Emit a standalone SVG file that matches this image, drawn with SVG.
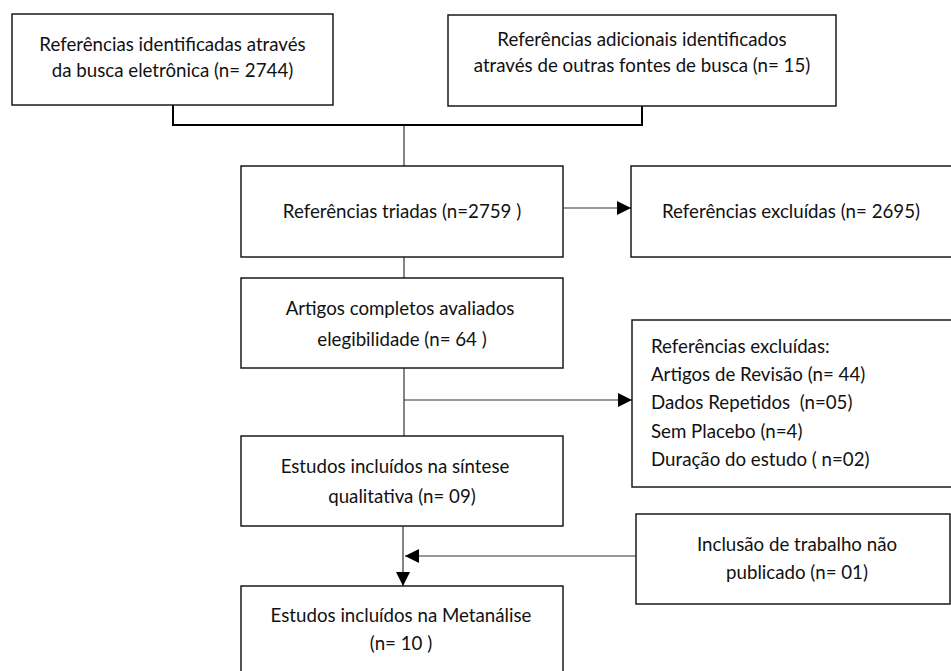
<svg xmlns="http://www.w3.org/2000/svg" width="951" height="671" viewBox="0 0 951 671">
  <style>
    .box { fill: #ffffff; stroke: #1a1a1a; stroke-width: 1.5; }
    .t { font-family: Lato, "Open Sans", "Liberation Sans", sans-serif; font-size: 18.7px; fill: #111111; white-space: pre; }
    .c { text-anchor: middle; }
    .thick { fill: none; stroke: #000000; stroke-width: 2; }
    .thin { fill: none; stroke: #333333; stroke-width: 1.2; }
  </style>
  <defs>
    <marker id="arrow" viewBox="0 0 14 14" refX="14" refY="7" markerWidth="14" markerHeight="14" markerUnits="userSpaceOnUse" orient="auto">
      <path d="M0,0 L14,7 L0,14 Z" fill="#000000"/>
    </marker>
  </defs>
  <rect width="951" height="671" fill="#ffffff"/>

  <g id="connectors">
    <polyline class="thick" points="173,105 173,125 642,125 642,106"/>
    <line class="thin" x1="404" y1="126" x2="404" y2="166"/>
    <line class="thin" x1="564" y1="208" x2="631" y2="208" marker-end="url(#arrow)"/>
    <line class="thin" x1="404" y1="257" x2="404" y2="278"/>
    <line class="thin" x1="404" y1="368" x2="404" y2="436"/>
    <line class="thin" x1="404" y1="400" x2="632" y2="400" marker-end="url(#arrow)"/>
    <line class="thin" x1="403" y1="526" x2="403" y2="586" marker-end="url(#arrow)"/>
    <line class="thin" x1="636" y1="556" x2="405" y2="556" marker-end="url(#arrow)"/>
  </g>

  <g id="n1">
    <rect class="box" x="12" y="14" width="321" height="91"/>
    <text class="t c" x="172.5" y="51">Referências identificadas através</text>
    <text class="t c" x="172.5" y="77">da busca eletrônica (n= 2744)</text>
  </g>
  <g id="n2">
    <rect class="box" x="448" y="15" width="388" height="91"/>
    <text class="t c" x="642" y="46">Referências adicionais identificados</text>
    <text class="t c" x="642" y="72">através de outras fontes de busca (n= 15)</text>
  </g>
  <g id="n3">
    <rect class="box" x="241" y="166" width="322" height="91"/>
    <text class="t c" x="402" y="218">Referências triadas (n=2759 )</text>
  </g>
  <g id="n4">
    <rect class="box" x="631" y="166" width="325" height="91"/>
    <text class="t c" x="791" y="218">Referências excluídas (n= 2695)</text>
  </g>
  <g id="n5">
    <rect class="box" x="241" y="278" width="322" height="90"/>
    <text class="t c" x="400" y="315">Artigos completos avaliados</text>
    <text class="t c" x="402" y="346">elegibilidade (n= 64 )</text>
  </g>
  <g id="n6">
    <rect class="box" x="632" y="320" width="324" height="167"/>
    <text class="t" x="651" y="353">Referências excluídas:</text>
    <text class="t" x="651" y="381">Artigos de Revisão (n= 44)</text>
    <text class="t" x="651" y="409">Dados Repetidos  (n=05)</text>
    <text class="t" x="651" y="438">Sem Placebo (n=4)</text>
    <text class="t" x="651" y="466">Duração do estudo ( n=02)</text>
  </g>
  <g id="n7">
    <rect class="box" x="241" y="436" width="322" height="90"/>
    <text class="t c" x="395" y="473">Estudos incluídos na síntese</text>
    <text class="t c" x="402" y="503">qualitativa (n= 09)</text>
  </g>
  <g id="n8">
    <rect class="box" x="636" y="514" width="314" height="90"/>
    <text class="t c" x="797" y="551">Inclusão de trabalho não</text>
    <text class="t c" x="797" y="579">publicado (n= 01)</text>
  </g>
  <g id="n9">
    <rect class="box" x="241" y="586" width="322" height="100"/>
    <text class="t c" x="401" y="622">Estudos incluídos na Metanálise</text>
    <text class="t c" x="401" y="650">(n= 10 )</text>
  </g>
</svg>
